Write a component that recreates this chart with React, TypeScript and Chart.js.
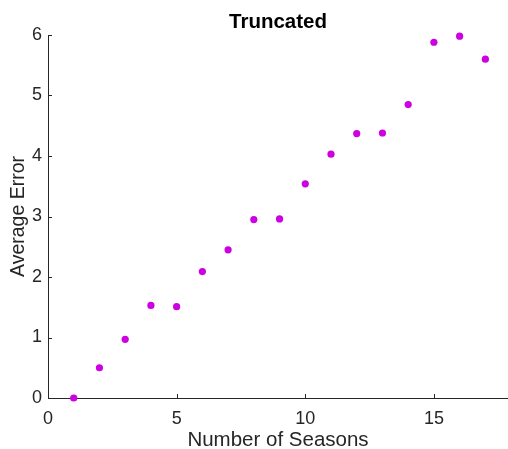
import React, { useEffect, useRef } from "react";
import { Chart, registerables } from "chart.js";

Chart.register(...registerables);

const seasons = [1, 2, 3, 4, 5, 6, 7, 8, 9, 10, 11, 12, 13, 14, 15, 16, 17];
const averageError = [0, 0.5, 0.97, 1.53, 1.51, 2.09, 2.45, 2.95, 2.96, 3.54, 4.03, 4.37, 4.38, 4.85, 5.88, 5.98, 5.6];
const xTicks = [0, 5, 10, 15];
const yTicks = [0, 1, 2, 3, 4, 5, 6];

const FONT = "'Liberation Sans', Arial, Helvetica, sans-serif";
const AXIS = "#262626";

const innerTicks = {
  id: "innerTicks",
  afterDraw(chart: any) {
    const ctx = chart.ctx;
    const xs = chart.scales.x;
    const ys = chart.scales.y;
    const a = chart.chartArea;
    ctx.save();
    ctx.strokeStyle = AXIS;
    ctx.lineWidth = 1;
    ctx.beginPath();
    for (const v of xTicks) {
      const px = Math.round(xs.getPixelForValue(v)) + 0.5;
      ctx.moveTo(px, a.bottom);
      ctx.lineTo(px, a.bottom - 4);
    }
    for (const v of yTicks) {
      const py = Math.round(ys.getPixelForValue(v)) + 0.5;
      ctx.moveTo(a.left, py);
      ctx.lineTo(a.left + 4, py);
    }
    ctx.stroke();
    ctx.restore();
  },
};

export default function App() {
  const ref = useRef<HTMLCanvasElement>(null);
  useEffect(() => {
    if (!ref.current) return;
    const chart = new Chart(ref.current, {
      type: "scatter",
      data: {
        datasets: [
          {
            data: seasons.map((s, i) => ({ x: s, y: averageError[i] })),
            backgroundColor: "rgb(204,0,224)",
            borderColor: "rgb(204,0,224)",
            pointRadius: 3.6,
            borderWidth: 0,
            clip: false,
          },
        ],
      },
      options: {
        animation: false,
        responsive: true,
        maintainAspectRatio: false,
        layout: { autoPadding: false, padding: { left: 0, right: 0, top: 0, bottom: 0 } },
        plugins: {
          legend: { display: false },
          tooltip: { enabled: false },
          title: {
            display: true,
            fullSize: false,
            text: "Truncated",
            color: "#000",
            font: { family: FONT, size: 20.5, weight: "bold" },
            padding: { top: 10, bottom: 0.4 },
          },
        },
        scales: {
          x: {
            type: "linear",
            min: 0,
            max: 17.88,
            afterBuildTicks: (s: any) => {
              s.ticks = xTicks.map((v) => ({ value: v }));
            },
            afterFit: (s: any) => {
              s.height = 51;
            },
            grid: { display: false, drawTicks: false },
            border: { display: true, color: AXIS, width: 1 },
            ticks: {
              color: AXIS,
              font: { family: FONT, size: 18 },
              padding: 10,
              maxRotation: 0,
            },
            title: {
              display: true,
              text: "Number of Seasons",
              color: AXIS,
              font: { family: FONT, size: 20.5, lineHeight: 1 },
              padding: { top: 0, bottom: -1.5 },
            },
          },
          y: {
            type: "linear",
            min: 0,
            max: 6,
            afterBuildTicks: (s: any) => {
              s.ticks = yTicks.map((v) => ({ value: v }));
            },
            afterFit: (s: any) => {
              s.width = 48;
            },
            grid: { display: false, drawTicks: false },
            border: { display: true, color: AXIS, width: 1 },
            ticks: {
              color: AXIS,
              font: { family: FONT, size: 18 },
              padding: 6,
            },
            title: {
              display: true,
              text: "Average Error",
              color: AXIS,
              font: { family: FONT, size: 19.5 },
              padding: { top: 6.6, bottom: 0 },
            },
          },
        },
      },
      plugins: [innerTicks],
    });
    return () => chart.destroy();
  }, []);
  return (
    <div style={{ position: "absolute", left: 0, top: 0, width: 508, height: 449, background: "#fff" }}>
      <canvas ref={ref} />
    </div>
  );
}
